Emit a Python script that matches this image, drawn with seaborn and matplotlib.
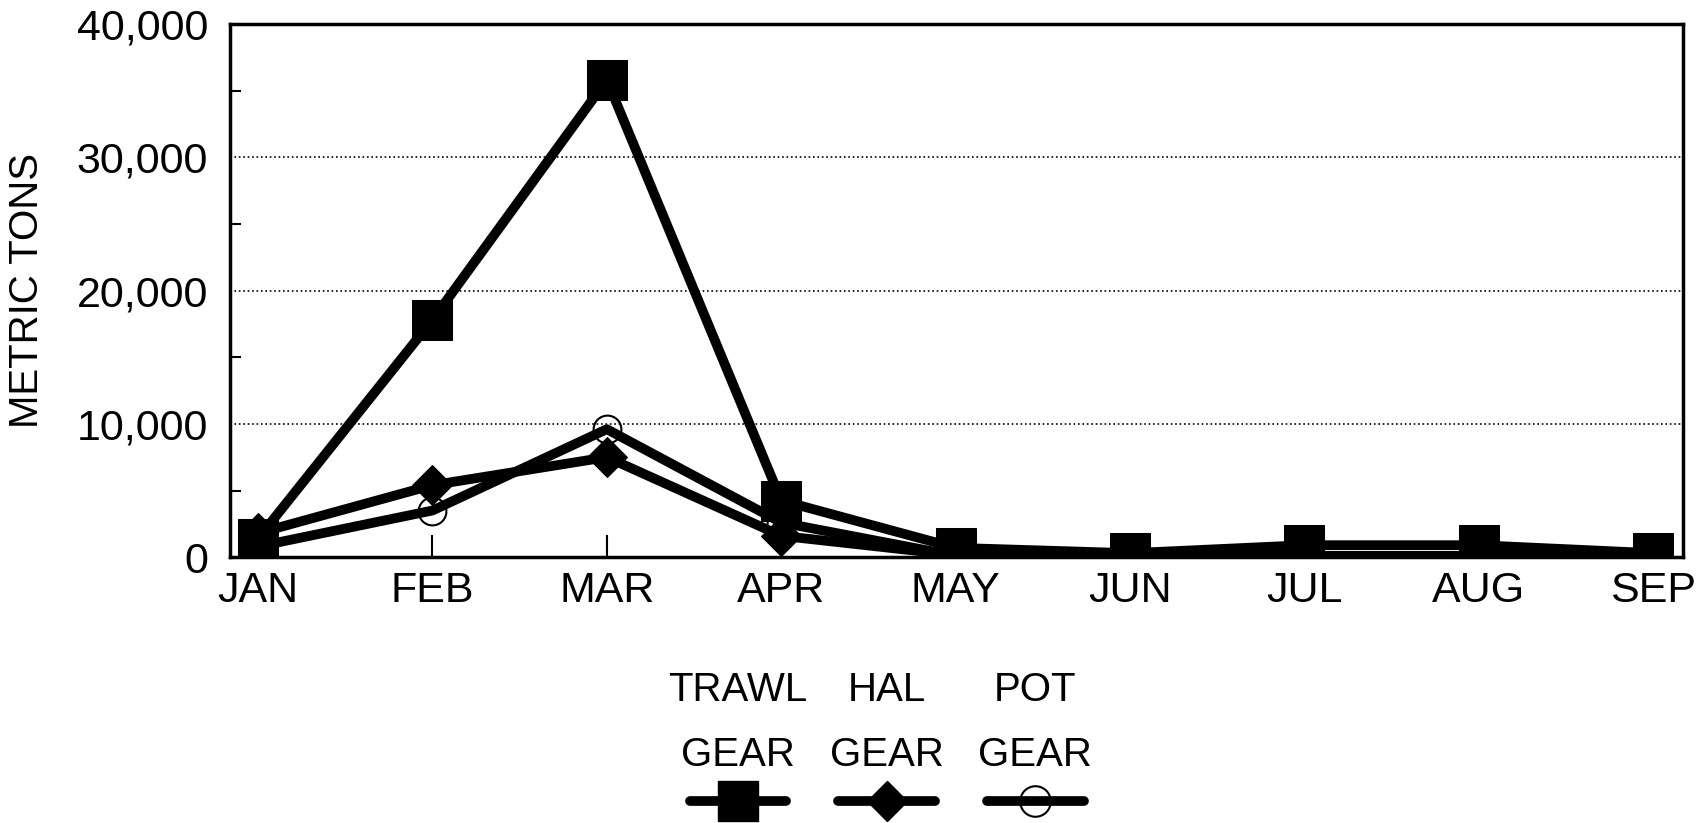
import pandas as pd
import seaborn as sns
import matplotlib.pyplot as plt
import matplotlib.ticker as mticker
from matplotlib.lines import Line2D

# Monthly catch by gear type (metric tons)
months = ['JAN', 'FEB', 'MAR', 'APR', 'MAY', 'JUN', 'JUL', 'AUG', 'SEP']
trawl = [1400, 17800, 35800, 4250, 700, 300, 900, 900, 300]
hal = [1800, 5400, 7500, 1600, 150, 300, 100, 100, 350]
pot = [800, 3500, 9600, 2600, 100, 50, 100, 100, 100]

series_names = ['TRAWL\nGEAR', 'HAL\nGEAR', 'POT\nGEAR']

sns.set_style('white')
plt.rcParams['font.family'] = ['Liberation Sans', 'DejaVu Sans']
plt.rcParams['text.color'] = 'black'
plt.rcParams['axes.labelcolor'] = 'black'
plt.rcParams['xtick.color'] = 'black'
plt.rcParams['ytick.color'] = 'black'

fig = plt.figure(figsize=(17.05, 8.23), dpi=100)
ax = fig.add_axes([0.135, 0.323, 0.852, 0.648])

x = list(range(len(months)))

# draw order: pot, hal, then trawl on top
sns.lineplot(x=x, y=pot, ax=ax, color='black', linewidth=7, marker='o',
             markersize=20, markerfacecolor='none', markeredgecolor='black',
             markeredgewidth=1.5)
sns.lineplot(x=x, y=hal, ax=ax, color='black', linewidth=7, marker='D',
             markersize=20, markeredgecolor='black')
sns.lineplot(x=x, y=trawl, ax=ax, color='black', linewidth=7, marker='s',
             markersize=29, markeredgecolor='black')

ax.set_xlim(-0.16, 8.17)
ax.set_ylim(0, 40000)
ax.set_xticks(x)
ax.set_xticklabels(months)
ax.yaxis.set_major_locator(mticker.MultipleLocator(10000))
ax.yaxis.set_minor_locator(mticker.MultipleLocator(5000))
ax.yaxis.set_major_formatter(mticker.StrMethodFormatter('{x:,.0f}'))

ax.grid(axis='y', which='major', linestyle=':', color='black', linewidth=1.2)
ax.tick_params(axis='y', which='major', length=0, pad=16, labelsize=31)
ax.tick_params(axis='y', which='minor', left=True, direction='in', length=8,
               width=1.5, color='black')
ax.tick_params(axis='x', which='major', bottom=True, direction='in',
               length=16, width=1.5, color='black', pad=10, labelsize=31)

for s in ax.spines.values():
    s.set_color('black')
    s.set_linewidth(2.5)

ax.set_ylabel('METRIC TONS', fontsize=29, labelpad=22)

# legend: handles on one row, labels drawn above each handle
handles = [
    Line2D([], [], color='black', linewidth=7, marker='s', markersize=29,
           solid_capstyle='round'),
    Line2D([], [], color='black', linewidth=7, marker='D', markersize=20,
           solid_capstyle='round'),
    Line2D([], [], color='black', linewidth=7, marker='o', markersize=22,
           markerfacecolor='none', markeredgewidth=1.5, solid_capstyle='round'),
]
leg = fig.legend(handles, ['', '', ''], ncol=3, loc='center',
                 bbox_to_anchor=(0.52, 0.022), frameon=False, fontsize=31,
                 handlelength=2.25, handletextpad=0, columnspacing=1.2)

fig.canvas.draw()
inv = fig.transFigure.inverted()
for line, name in zip(leg.get_lines(), series_names):
    bb = line.get_window_extent(fig.canvas.get_renderer())
    cx = inv.transform(((bb.x0 + bb.x1) / 2, 0))[0]
    fig.text(cx, 0.06, name, ha='center', va='bottom', fontsize=29,
             linespacing=1.9)

fig.savefig('out.png', dpi=100)
